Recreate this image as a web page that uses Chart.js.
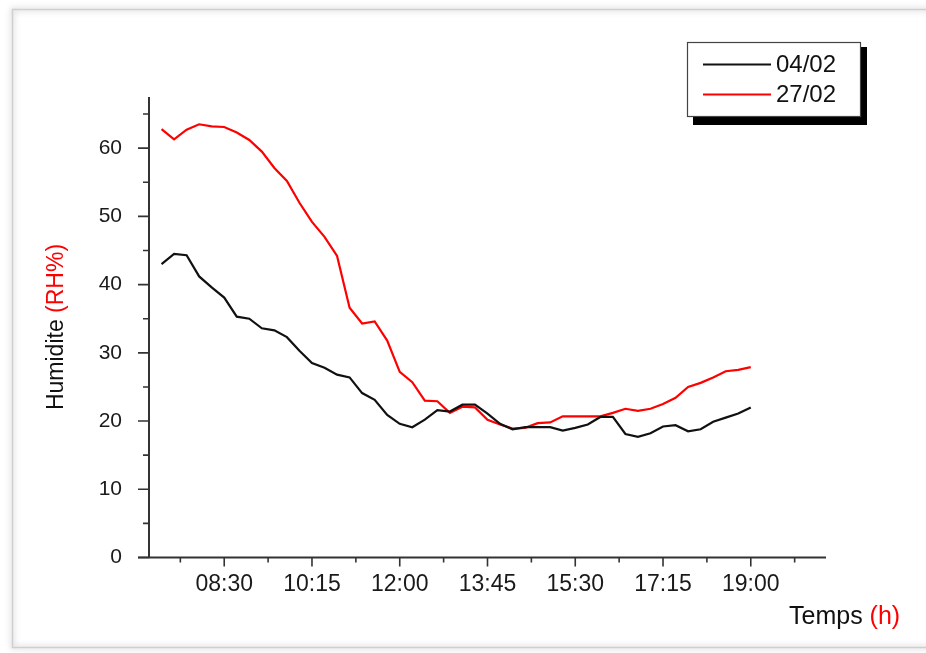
<!DOCTYPE html>
<html><head><meta charset="utf-8">
<script src="https://cdn.jsdelivr.net/npm/chart.js@4.4.0/dist/chart.umd.min.js"></script>
<style>html,body{margin:0;padding:0;background:#fff;overflow:hidden}#wrap{width:926px;height:653px;position:relative}</style>
</head><body><div id="wrap"><canvas id="c" width="926" height="653"></canvas></div>
<script>
const times = ['07:15','07:30','07:45','08:00','08:15','08:30','08:45','09:00','09:15','09:30','09:45','10:00',
 '10:15','10:30','10:45','11:00','11:15','11:30','11:45','12:00','12:15','12:30','12:45','13:00',
 '13:15','13:30','13:45','14:00','14:15','14:30','14:45','15:00','15:15','15:30','15:45','16:00',
 '16:15','16:30','16:45','17:00','17:15','17:30','17:45','18:00','18:15','18:30','18:45','19:00'];
const rh0402 = [43.0,44.5,44.3,41.2,39.6,38.1,35.3,35.0,33.6,33.3,32.3,30.3,
 28.5,27.8,26.8,26.4,24.1,23.1,20.9,19.6,19.1,20.2,21.6,21.4,
 22.4,22.4,21.1,19.6,18.8,19.1,19.1,19.1,18.6,19.0,19.5,20.6,
 20.6,18.1,17.7,18.2,19.2,19.4,18.5,18.8,19.9,20.5,21.1,22.0];
const rh2702 = [62.8,61.3,62.7,63.5,63.2,63.1,62.3,61.2,59.5,57.1,55.2,52.0,
 49.2,47.0,44.2,36.6,34.3,34.6,31.8,27.2,25.7,23.0,22.9,21.2,
 22.1,22.0,20.2,19.5,18.9,19.0,19.7,19.8,20.7,20.7,20.7,20.7,
 21.2,21.8,21.5,21.8,22.5,23.4,25.0,25.6,26.4,27.3,27.5,27.9];
const seriesLabels = ['04/02','27/02'];
const seriesColors = ['#111111','#ff0000'];
const xTickLabels = ['08:30','10:15','12:00','13:45','15:30','17:15','19:00'];
const xRange = ['07:00','20:30'];
const yTickValues = [0,10,20,30,40,50,60];
const yMax = 67.5;

const toMin = s => { const p = s.split(':'); return (+p[0])*60 + (+p[1]); };
const fmt = v => { const h = Math.floor(v/60), m = Math.round(v%60); return String(h).padStart(2,'0')+':'+String(m).padStart(2,'0'); };

const majorX = xTickLabels.map(toMin);
const minorX = [majorX[0]-(majorX[1]-majorX[0])/2].concat(majorX.map((v,i)=>v+(majorX[1]-majorX[0])/2));
const minorY = yTickValues.map(v=>v+5);

const FONT = '"Liberation Sans", Arial, sans-serif';

const decor = {
  id: 'decor',
  beforeDraw(chart) {
    const ctx = chart.ctx;
    ctx.save();
    ctx.fillStyle = '#fff';
    ctx.fillRect(0,0,chart.width,chart.height);
    ctx.shadowColor = 'rgba(0,0,0,0.35)';
    ctx.shadowBlur = 6;
    ctx.strokeStyle = '#cfcfcf';
    ctx.lineWidth = 1.5;
    ctx.strokeRect(12.5, 9.5, 940, 638);
    ctx.restore();
  },
  afterDraw(chart) {
    const ctx = chart.ctx;
    const xs = chart.scales.x, ys = chart.scales.y;
    const L = xs.left, R = xs.right, B = ys.bottom, T = ys.top;
    ctx.save();
    ctx.strokeStyle = '#333';
    ctx.lineWidth = 2;
    ctx.beginPath();
    ctx.moveTo(L, T); ctx.lineTo(L, B);
    ctx.moveTo(L-11, B); ctx.lineTo(R, B);
    ctx.stroke();
    ctx.lineWidth = 1.6;
    ctx.beginPath();
    yTickValues.forEach(v => { const p = ys.getPixelForValue(v); ctx.moveTo(L-11,p); ctx.lineTo(L,p); });
    minorY.forEach(v => { const p = ys.getPixelForValue(v); ctx.moveTo(L-6,p); ctx.lineTo(L,p); });
    majorX.forEach(v => { const p = xs.getPixelForValue(v); ctx.moveTo(p,B); ctx.lineTo(p,B+9); });
    minorX.forEach(v => { const p = xs.getPixelForValue(v); ctx.moveTo(p,B); ctx.lineTo(p,B+5); });
    ctx.stroke();

    // Y title
    ctx.save();
    ctx.translate(57, 327);
    ctx.rotate(-Math.PI/2);
    ctx.font = '23px ' + FONT;
    ctx.textBaseline = 'middle';
    const a = 'Humidite ', b = '(RH%)';
    const wa = ctx.measureText(a).width, wb = ctx.measureText(b).width;
    let x0 = -(wa+wb)/2;
    ctx.fillStyle = '#111'; ctx.fillText(a, x0, 0);
    ctx.fillStyle = '#ff0000'; ctx.fillText(b, x0+wa, 0);
    ctx.restore();

    // X title
    ctx.font = '25px ' + FONT;
    ctx.textBaseline = 'middle';
    const c1 = 'Temps ', c2 = '(h)';
    const w1 = ctx.measureText(c1).width;
    ctx.fillStyle = '#111'; ctx.fillText(c1, 789, 617);
    ctx.fillStyle = '#ff0000'; ctx.fillText(c2, 789+w1, 617);

    // Legend
    ctx.fillStyle = '#000';
    ctx.fillRect(693, 47, 174, 78);
    ctx.fillStyle = '#fff';
    ctx.fillRect(687, 42, 174, 75);
    ctx.strokeStyle = '#444';
    ctx.lineWidth = 1.2;
    ctx.strokeRect(687.5, 42.5, 173, 74);
    ctx.font = '24px ' + FONT;
    ctx.textBaseline = 'middle';
    chart.data.datasets.forEach((ds, i) => {
      const yy = 64.5 + i*30;
      ctx.strokeStyle = ds.borderColor; ctx.lineWidth = 2;
      ctx.beginPath(); ctx.moveTo(703, yy); ctx.lineTo(771, yy); ctx.stroke();
      ctx.fillStyle = '#111';
      ctx.fillText(ds.label, 776, yy+1);
    });
    ctx.restore();
  }
};

new Chart(document.getElementById('c'), {
  type: 'line',
  data: {
    datasets: [rh0402, rh2702].map((arr, i) => ({
      label: seriesLabels[i],
      data: arr.map((v, j) => ({x: toMin(times[j]), y: v})),
      borderColor: seriesColors[i],
      borderWidth: 2.2,
      pointRadius: 0,
      tension: 0,
      fill: false
    }))
  },
  options: {
    responsive: false,
    animation: false,
    devicePixelRatio: 1,
    layout: { padding: { top: 97, right: 100, left: 0, bottom: 0 } },
    plugins: { legend: { display: false }, tooltip: { enabled: false } },
    scales: {
      x: {
        type: 'linear',
        min: toMin(xRange[0]), max: toMin(xRange[1]),
        afterBuildTicks: s => { s.ticks = majorX.map(v => ({value: v})); },
        afterFit: s => { s.height = 95.5; },
        grid: { display: false }, border: { display: false },
        ticks: { callback: v => fmt(v), font: { size: 23, family: FONT }, color: '#1a1a1a', padding: 5, maxRotation: 0, autoSkip: false }
      },
      y: {
        min: 0, max: yMax,
        afterBuildTicks: s => { s.ticks = yTickValues.map(v => ({value: v})); },
        afterFit: s => { s.width = 149; },
        grid: { display: false }, border: { display: false },
        ticks: { font: { size: 21, family: FONT }, color: '#1a1a1a', padding: 19 }
      }
    }
  },
  plugins: [decor]
});
</script></body></html>
